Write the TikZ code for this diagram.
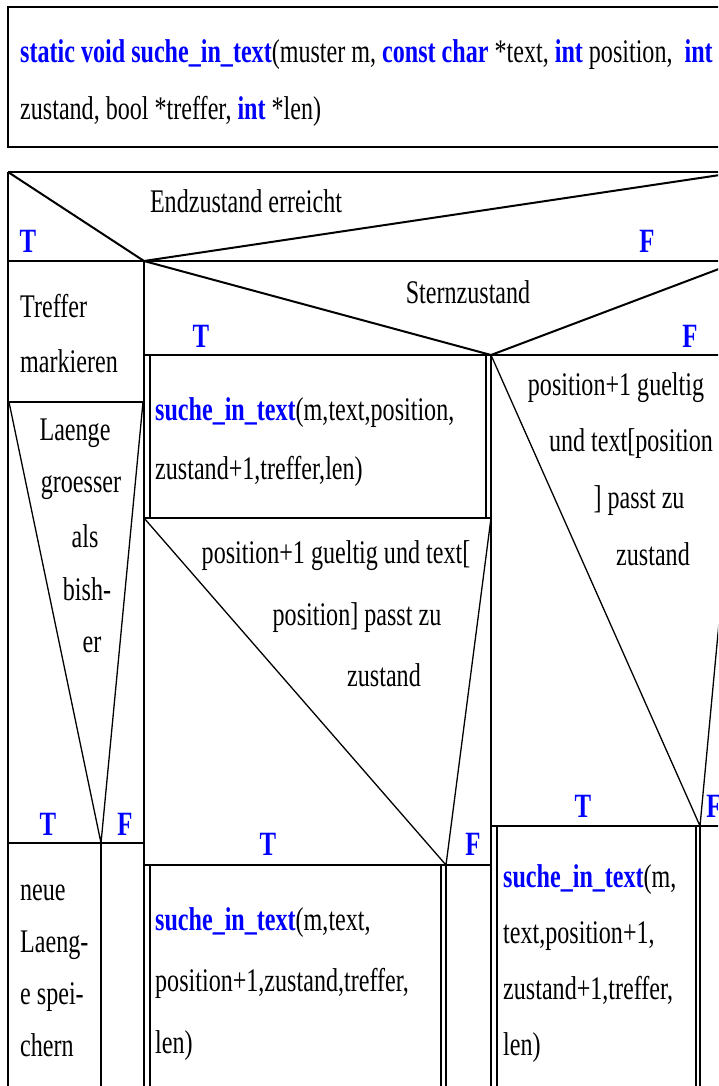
\documentclass[tikz,border=0pt]{standalone}
\usepackage{fontspec}
\setmainfont{Liberation Serif}[FakeStretch=0.73]
\usepackage{xcolor}
\usepackage{tikz}

\definecolor{kwblue}{RGB}{0,0,255}
\newcommand{\kw}[1]{\textcolor{kwblue}{\textbf{#1}}}

\begin{document}
\begin{tikzpicture}[
    x=1pt, y=-1pt,
    heavy/.style={line width=2.4pt},
    slant/.style={line width=2pt},
    light/.style={line width=1.3pt},
    txt/.style={inner sep=0pt, align=left, font=\fontsize{33}{#1}\selectfont},
    txt/.default=57,
    tf/.style={inner sep=0pt, anchor=base, text=kwblue, font=\bfseries\fontsize{34}{34}\selectfont}
  ]
    \useasboundingbox (0,0) rectangle (718,1086);
    \clip (0,0) rectangle (718,1086);

    % signature (base = last line)
    \draw[heavy] (8,7) rectangle (740,147);
    \node[txt=57, anchor=base west] (sig) at (20,120)
      {\kw{static void suche\_in\_text}(muster m, \kw{const char} *text, \kw{int} position,~ \kw{int}\\zustand, bool *treffer, \kw{int} *len)};

    % Endzustand erreicht
    \draw[heavy] (8,172) -- (740,172);
    \draw[heavy] (8,172) -- (8,1090);
    \draw[slant] (8,172) -- (144,261) -- (740,172);
    \draw[heavy] (8,261) -- (740,261);
    \draw[heavy] (144,261) -- (144,1090);
    \node[txt, anchor=base] (endz) at (246,212) {Endzustand erreicht};
    \node[tf] (endzT) at (28,252) {T};
    \node[tf] (endzF) at (647,252) {F};

    % left column
    \draw[heavy] (8,402) -- (144,402);
    \draw[light] (9,402) -- (101,843) -- (143,402);
    \draw[heavy] (8,843) -- (144,843);
    \draw[heavy] (101,843) -- (101,1090);
    \node[txt=55, anchor=base west] (treffer) at (20,372) {Treffer\\markieren};
    \foreach \word/\xx/\yy [count=\i] in {Laenge/75/440, groesser/81/492, als/85/547, bish-/87/600, er/92/652}
      \node[txt, anchor=base] (laenge\i) at (\xx,\yy) {\word};
    \node[tf] (laengeT) at (48,835) {T};
    \node[tf] (laengeF) at (125,835) {F};
    \node[txt=52, anchor=base west] (speichern) at (20,1056) {neue\\Laeng-\\e spei-\\chern};

    % Sternzustand
    \draw[slant] (144,261) -- (491,355) -- (740,261);
    \draw[heavy] (144,355) -- (740,355);
    \draw[heavy] (491,355) -- (491,1090);
    \node[txt, anchor=base] (stern) at (468,303) {Sternzustand};
    \node[tf] (sternT) at (201,347) {T};
    \node[tf] (sternF) at (690,347) {F};

    % middle column
    \draw[light] (150,355) -- (150,518);
    \draw[light] (486,355) -- (486,518);
    \draw[heavy] (144,518) -- (491,518);
    \node[txt=59, anchor=base west] (call1) at (155,479)
      {\kw{suche\_in\_text}(m,text,position,\\zustand+1,treffer,len)};
    \draw[light] (144,518) -- (446,865) -- (491,518);
    \draw[heavy] (144,865) -- (491,865);
    \foreach \part/\xx/\yy [count=\i] in {{position+1 gueltig und text[}/336/563, {position] passt zu}/357/625, zustand/384/686}
      \node[txt, anchor=base] (mid\i) at (\xx,\yy) {\part};
    \node[tf] (midT) at (268,855) {T};
    \node[tf] (midF) at (473,855) {F};
    \draw[light] (150,865) -- (150,1090);
    \draw[light] (441,865) -- (441,1090);
    \draw[heavy] (446,865) -- (446,1090);
    \node[txt=61.5, anchor=base west] (call2) at (155,1053)
      {\kw{suche\_in\_text}(m,text,\\position+1,zustand,treffer,\\len)};

    % right column
    \draw[light] (491,355) -- (700,826) -- (744,355);
    \draw[heavy] (491,826) -- (740,826);
    \foreach \part/\xx/\yy [count=\i] in {{position+1 gueltig}/616/395, {und text[position}/631/451, {] passt zu}/639/508, zustand/653/565}
      \node[txt, anchor=base] (right\i) at (\xx,\yy) {\part};
    \node[tf] (rightT) at (583,817) {T};
    \node[tf] (rightF) at (714,817) {F};
    \draw[light] (497,826) -- (497,1090);
    \draw[light] (696,826) -- (696,1090);
    \draw[heavy] (700,826) -- (700,1090);
    \node[txt=56, anchor=base west] (call3) at (503,1055)
      {\kw{suche\_in\_text}(m,\\text,position+1,\\zustand+1,treffer,\\len)};
  \end{tikzpicture}
\end{document}
